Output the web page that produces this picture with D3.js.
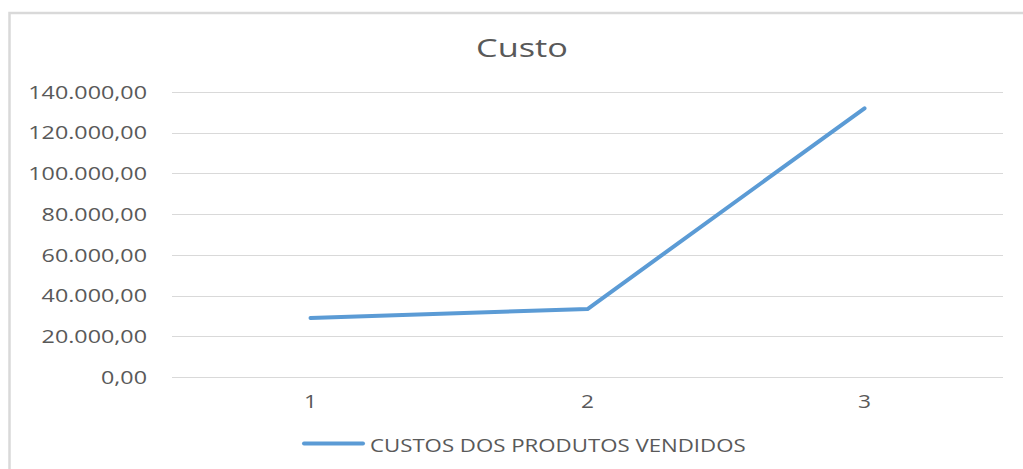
<!DOCTYPE html>
<html>
<head>
<meta charset="utf-8">
<script src="https://cdn.jsdelivr.net/npm/d3@7"></script>
<style>
  body { margin: 0; background: #fff; }
  svg text { font-family: "Open Sans", sans-serif; fill: #595959; }
</style>
</head>
<body>
<div id="VizBox"></div>
<script>
// data
var categories = ["1", "2", "3"];
var custos = [29000, 33400, 132000];
var yTicks = [0, 20000, 40000, 60000, 80000, 100000, 120000, 140000];
var seriesName = "CUSTOS DOS PRODUTOS VENDIDOS";
var title = "Custo";

var W = 1023, H = 469;
var margin = {top: 92, right: 20, bottom: 92, left: 172},
    width = 1003 - margin.left,
    height = 377 - margin.top;

var svg = d3.select("#VizBox")
  .append("svg")
    .attr("width", W)
    .attr("height", H);

// chart frame (only top and left edges visible)
svg.append("path")
  .attr("d", "M9.5,469 V13 H1023")
  .attr("fill", "none")
  .attr("stroke", "#d9d9d9")
  .attr("stroke-width", 2.5);

var g = svg.append("g")
  .attr("transform", "translate(" + margin.left + "," + margin.top + ")");

var x = d3.scaleBand()
  .domain(categories)
  .range([0, width]);

var y = d3.scaleLinear()
  .domain([0, 140000])
  .range([height, 0]);

// horizontal stretch of the text, the reference is wider than the fonts we have
var sx = 1.26;

function fmt(v) {
  return d3.format(",.2f")(v).replace(/,/g, "#").replace(".", ",").replace(/#/g, ".");
}

// gridlines
g.selectAll(".grid")
  .data(yTicks)
  .enter()
  .append("line")
    .attr("x1", 0)
    .attr("x2", width)
    .attr("y1", function(d) { return Math.round(y(d)) + 0.5; })
    .attr("y2", function(d) { return Math.round(y(d)) + 0.5; })
    .attr("stroke", "#d9d9d9")
    .attr("stroke-width", 1);

// y labels
g.selectAll(".ylab")
  .data(yTicks)
  .enter()
  .append("text")
    .attr("transform", function(d) { return "translate(-25," + y(d) + ") scale(" + sx + ",1)"; })
    .attr("text-anchor", "end")
    .attr("dy", "0.36em")
    .attr("font-size", "18.5px")
    .text(fmt);

// x labels
g.selectAll(".xlab")
  .data(categories)
  .enter()
  .append("text")
    .attr("transform", function(d) { return "translate(" + (x(d) + x.bandwidth() / 2) + "," + (height + 31) + ") scale(" + sx + ",1)"; })
    .attr("text-anchor", "middle")
    .attr("font-size", "18px")
    .text(function(d) { return d; });

// the line
var line = d3.line()
  .x(function(d, i) { return x(categories[i]) + x.bandwidth() / 2; })
  .y(function(d) { return y(d); });

g.append("path")
  .datum(custos)
  .attr("d", line)
  .attr("fill", "none")
  .attr("stroke", "#5b9bd5")
  .attr("stroke-width", 4)
  .attr("stroke-linecap", "round")
  .attr("stroke-linejoin", "round");

// title
svg.append("text")
  .attr("transform", "translate(522,57) scale(1.32,1)")
  .attr("text-anchor", "middle")
  .attr("font-size", "26px")
  .text(title);

// legend
svg.append("line")
  .attr("x1", 304).attr("x2", 363)
  .attr("y1", 443.5).attr("y2", 443.5)
  .attr("stroke", "#5b9bd5")
  .attr("stroke-width", 4)
  .attr("stroke-linecap", "round");

svg.append("text")
  .attr("transform", "translate(370,451.5) scale(1.27,1)")
  .attr("font-size", "17.5px")
  .text(seriesName);
</script>
</body>
</html>
